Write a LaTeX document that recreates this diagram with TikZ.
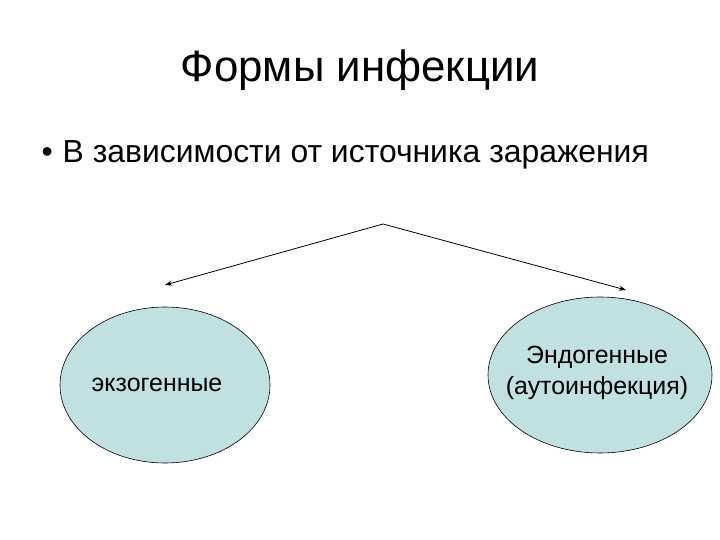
\documentclass[tikz,border=0pt]{standalone}
\usepackage{fontspec}
\setmainfont{Liberation Sans}
\usetikzlibrary{arrows.meta}
\definecolor{fillb}{HTML}{C0E0E2}
\begin{document}
\begin{tikzpicture}[x=1bp,y=-1bp,
  blob/.style={draw=black,fill=fillb,line width=0.6bp},
  lbl/.style={align=center,font=\fontsize{25}{31}\selectfont},
  conn/.style={-{Stealth[length=7bp,width=5bp]},line width=0.8bp}]
\useasboundingbox (0,0) rectangle (720,540);
\node[font=\fontsize{44}{48}\selectfont] (title) at (360,70) {Формы инфекции};
\node[anchor=west,font=\fontsize{32}{36}\selectfont] (bullet) at (38,155) {•\hspace{10bp}В зависимости от источника заражения};
\coordinate (apex) at (383,224);
\draw[blob] (165,385) ellipse [x radius=105, y radius=78];
\node[lbl] (left) at (157,385) {экзогенные};
\draw[blob] (600,375) ellipse [x radius=112, y radius=78];
\node[lbl] (right) at (597,373) {Эндогенные\\(аутоинфекция)};
\coordinate (lt) at (165,285);
\coordinate (rt) at (626,290);
\draw[conn] (apex) -- (lt);
\draw[conn] (apex) -- (rt);
\end{tikzpicture}
\end{document}
